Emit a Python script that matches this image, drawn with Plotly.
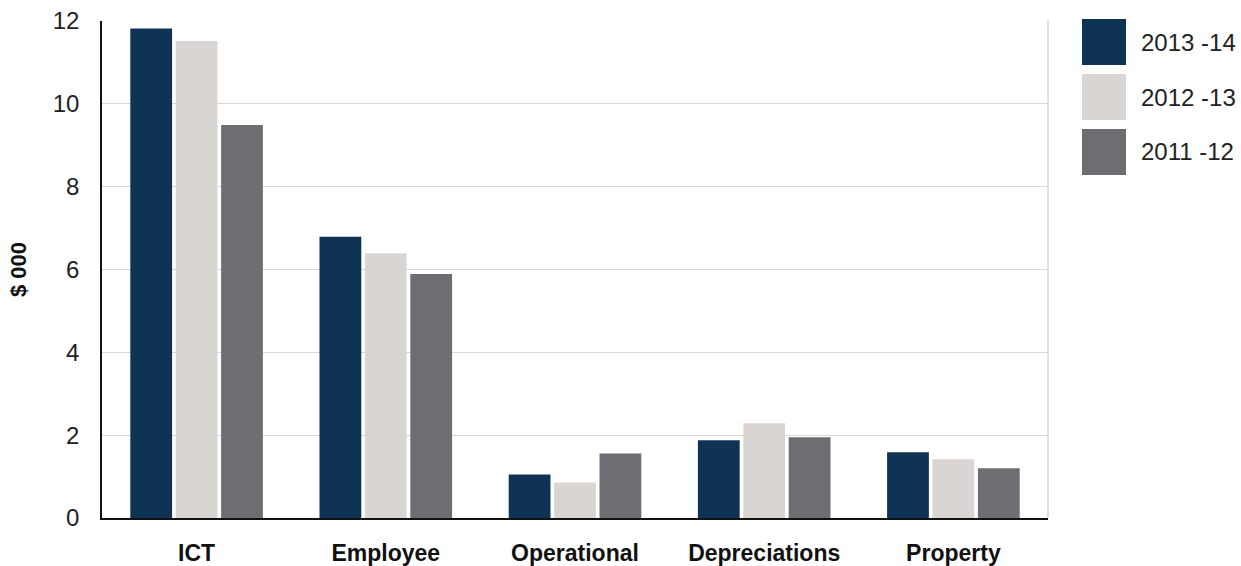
import plotly.graph_objects as go

categories = ["ICT", "Employee", "Operational", "Depreciations", "Property"]
series_names = ["2013 -14", "2012 -13", "2011 -12"]
values_2013_14 = [11.82, 6.79, 1.05, 1.88, 1.59]
values_2012_13 = [11.52, 6.39, 0.86, 2.29, 1.42]
values_2011_12 = [9.49, 5.89, 1.56, 1.95, 1.20]
colors = ["#0F3354", "#D9D5D3", "#6D6E72"]
y_ticks = [0, 2, 4, 6, 8, 10, 12]

series_values = [values_2013_14, values_2012_13, values_2011_12]

fig = go.Figure()
for name, vals, col in zip(series_names, series_values, colors):
    fig.add_trace(go.Bar(x=categories, y=vals, name=name,
                         marker=dict(color=col, line=dict(width=0)),
                         showlegend=False))

FONT = "Liberation Sans"
W, H = 1241, 566
L, R, T, B = 102, 193, 21, 48
plot_w = W - L - R
plot_h = H - T - B


def px_x(x):
    return (x - L) / plot_w


def px_y(y):
    return (H - B - y) / plot_h


# Legend: large square swatches with labels to the right of the plot
sw_x0, sw_x1 = 1082, 1126
sw_tops = [19, 74, 129]
sw_h = 46
for name, col, top in zip(series_names, colors, sw_tops):
    fig.add_shape(type="rect", xref="paper", yref="paper",
                  x0=px_x(sw_x0), x1=px_x(sw_x1),
                  y0=px_y(top), y1=px_y(top + sw_h),
                  fillcolor=col, line=dict(width=0))
    fig.add_annotation(xref="paper", yref="paper",
                       x=px_x(1139), y=px_y(top + sw_h / 2),
                       text=name, showarrow=False, xanchor="left", yanchor="middle",
                       font=dict(family=FONT, size=24, color="#222222"))

# Right border of the plot frame
fig.add_shape(type="line", xref="paper", yref="paper", x0=1, x1=1, y0=0, y1=1,
              line=dict(color="#D6D6D6", width=1.5))

fig.update_layout(
    width=W, height=H,
    margin=dict(l=L, r=R, t=T, b=B),
    plot_bgcolor="white", paper_bgcolor="white",
    barmode="group", bargap=0.28, bargroupgap=0.08,
    xaxis=dict(showgrid=False, showline=True, linecolor="#111111", linewidth=1.5,
               tickfont=dict(family=FONT, size=23, color="#111111", weight="bold"),
               ticks="", ticklabelstandoff=14, automargin=False, fixedrange=True),
    yaxis=dict(range=[0, 12], tickvals=y_ticks, showgrid=True, gridcolor="#D9D9D9",
               gridwidth=1.2, zeroline=False, showline=True, linecolor="#111111",
               linewidth=1.5, ticks="", ticklabelstandoff=16, automargin=False,
               tickfont=dict(family=FONT, size=24, color="#222222"),
               title=dict(text="$ 000", standoff=20,
                          font=dict(family=FONT, size=22, color="#111111", weight="bold"))),
)

fig.write_html("out.html")
